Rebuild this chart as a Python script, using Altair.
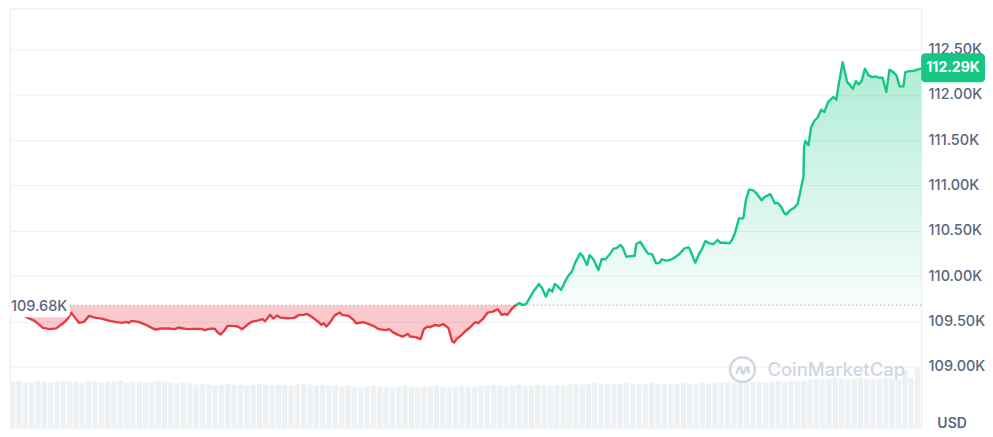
import altair as alt
import pandas as pd

# ---- data (24h, minutes since start, USD) ----
minutes = [0, 13, 25, 39, 52, 63, 73, 83, 91, 97, 103, 109, 117, 125, 130, 136, 145, 156, 167, 177,
           183, 188, 192, 203, 214, 224, 230, 239, 250, 261, 266, 274, 281, 292, 302, 308, 313, 317, 324, 328,
           333, 339, 344, 352, 360, 367, 375, 383, 391, 399, 403, 411, 416, 422, 427, 438, 449, 457, 464, 469,
           474, 482, 488, 492, 496, 500, 505, 513, 521, 525, 535, 543, 547, 558, 563, 574, 583, 594, 599, 605,
           613, 621, 629, 632, 641, 649, 654, 660, 664, 672, 677, 685, 693, 699, 702, 707, 711, 719, 727, 735,
           740, 747, 755, 763, 771, 777, 782, 786, 794, 800, 805, 810, 816, 821, 829, 836, 841, 847, 852, 857,
           861, 866, 871, 877, 882, 888, 894, 901, 905, 912, 916, 922, 930, 935, 941, 947, 954, 958, 965, 969,
           974, 982, 987, 990, 996, 1001, 1008, 1015, 1021, 1027, 1030, 1037, 1043, 1051, 1058, 1066, 1073, 1076, 1083, 1090,
           1093, 1099, 1105, 1112, 1118, 1123, 1130, 1137, 1141, 1146, 1152, 1159, 1163, 1168, 1174, 1180, 1188, 1193, 1202, 1209,
           1213, 1218, 1224, 1227, 1232, 1240, 1245, 1249, 1254, 1255, 1257, 1262, 1266, 1271, 1277, 1282, 1287, 1293, 1301, 1306,
           1309, 1316, 1323, 1326, 1332, 1337, 1341, 1346, 1351, 1357, 1363, 1368, 1373, 1379, 1385, 1390, 1396, 1401, 1406, 1412,
           1415, 1421, 1427, 1434, 1440]

prices = [109680, 109617, 109551, 109507, 109429, 109415, 109424, 109474, 109529, 109595,
          109540, 109485, 109496, 109562, 109551, 109540, 109532, 109510, 109496, 109485,
          109496, 109485, 109507, 109496, 109466, 109430, 109411, 109422, 109422, 109415,
          109433, 109422, 109415, 109418, 109418, 109404, 109415, 109422, 109418, 109382,
          109356, 109404, 109452, 109452, 109444, 109415, 109463, 109499, 109510, 109525,
          109501, 109573, 109532, 109565, 109543, 109536, 109540, 109573, 109573, 109584,
          109565, 109525, 109492, 109463, 109481, 109444, 109481, 109565, 109598, 109573,
          109562, 109518, 109481, 109492, 109481, 109452, 109415, 109404, 109415, 109382,
          109352, 109334, 109363, 109334, 109327, 109305, 109415, 109444, 109437, 109463,
          109452, 109470, 109426, 109279, 109268, 109316, 109334, 109389, 109433, 109492,
          109481, 109525, 109598, 109609, 109635, 109573, 109584, 109573, 109646, 109683,
          109702, 109683, 109694, 109757, 109848, 109914, 109867, 109774, 109856, 109829,
          109914, 109884, 109848, 109939, 110002, 110050, 110160, 110252, 110222, 110123,
          110233, 110186, 110068, 110186, 110186, 110233, 110307, 110307, 110344, 110307,
          110215, 110222, 110222, 110355, 110380, 110325, 110252, 110241, 110142, 110149,
          110186, 110171, 110178, 110208, 110244, 110307, 110318, 110270, 110149, 110259,
          110289, 110388, 110362, 110355, 110399, 110369, 110369, 110362, 110399, 110479,
          110638, 110638, 110839, 110955, 110949, 110913, 110839, 110876, 110905, 110803,
          110809, 110773, 110693, 110682, 110721, 110759, 110803, 110931, 111096, 111426,
          111492, 111445, 111640, 111713, 111757, 111838, 111812, 111922, 111977, 111948,
          112087, 112362, 112142, 112124, 112069, 112153, 112117, 112153, 112290, 112216,
          112197, 112205, 112190, 112190, 112032, 112279, 112252, 112216, 112095, 112095,
          112252, 112263, 112263, 112279, 112290]

# volume bars, 10-minute buckets (relative units)
volume = [46, 47, 45, 46, 47, 46, 45, 46, 47, 46, 46, 45, 47, 46, 45, 46, 46, 47, 45, 46,
          46, 45, 46, 47, 46, 45, 44, 45,
          44, 43, 44, 43, 42, 43, 44, 43, 43, 42, 43, 44, 43, 42, 43, 43, 42, 43, 44, 43,
          42, 43, 42, 42,
          41, 42, 41, 40, 41, 42, 41, 41, 40, 41, 42, 41, 40, 41, 41, 42, 41, 40, 41, 42,
          41, 41,
          42, 42, 43, 42, 41, 42, 43, 42, 42, 43, 42, 42, 43, 42,
          43, 44, 43, 44, 45, 44, 43, 44, 44, 45, 44, 43, 44, 45, 44, 44, 43, 44, 45, 44,
          44, 45, 44, 45, 45,
          46, 45, 46, 47, 46, 46, 45, 46, 47, 46, 47, 46, 47,
          48, 49, 48, 49, 50, 49, 48, 49, 50, 49, 48, 49, 50, 49, 48,
          58, 50, 60]

open_price = 109680
last_price = 112290
tick_values = [109000, 109500, 110000, 110500, 111000, 111500, 112000, 112500]

GREEN = "#16c784"
RED = "#ea3943"
GREY_TXT = "#58667e"
FONT = "Inter"

W, H = 913, 420
y_domain = [108329, 112955]

df = pd.DataFrame({"t": minutes, "price": prices})
vol_df = pd.DataFrame({"t0": [i * 10 for i in range(len(volume))], "vol": volume})
vol_df["t1"] = vol_df["t0"] + 10
one = pd.DataFrame({"k": [0]})  # single row for annotations

xs = alt.Scale(domain=[0, 1440], nice=False, zero=False)
ys = alt.Scale(domain=y_domain, nice=False, zero=False)

pmax, pmin = max(prices), min(prices)
split = (pmax - open_price) / (pmax - pmin)

line_grad = alt.Gradient(
    gradient="linear",
    stops=[alt.GradientStop(color=GREEN, offset=0),
           alt.GradientStop(color=GREEN, offset=split),
           alt.GradientStop(color=RED, offset=split),
           alt.GradientStop(color=RED, offset=1)],
    x1=0, x2=0, y1=0, y2=1)

area_grad = alt.Gradient(
    gradient="linear",
    stops=[alt.GradientStop(color="rgba(22,199,132,0.34)", offset=0),
           alt.GradientStop(color="rgba(22,199,132,0.03)", offset=1)],
    x1=0, x2=0, y1=0, y2=1)

base = alt.Chart(df)

vol = alt.Chart(vol_df).mark_rect(color="#eef1f4", x2Offset=-1).encode(
    x=alt.X("t0:Q", scale=xs, axis=None),
    x2="t1:Q",
    y=alt.Y("vol:Q", scale=alt.Scale(domain=[0, H], nice=False), axis=None),
    y2=alt.datum(0),
)

red_area = base.transform_calculate(lo=f"min(datum.price, {open_price})").mark_area(
    color=RED, opacity=0.27).encode(
    x=alt.X("t:Q", scale=xs, axis=None),
    y=alt.Y("lo:Q", scale=ys,
            axis=alt.Axis(orient="right", values=tick_values,
                          labelExpr="format(datum.value / 1000, '.2f') + 'K'",
                          grid=True, gridColor="#eef0f3", domain=False, ticks=False,
                          labelPadding=7, labelFont=FONT, labelFontSize=14.5,
                          labelColor=GREY_TXT, labelFontWeight=500, title=None)),
    y2=alt.datum(open_price),
)

green_area = base.transform_calculate(hi=f"max(datum.price, {open_price})").mark_area(
    fill=area_grad).encode(
    x=alt.X("t:Q", scale=xs),
    y=alt.Y("hi:Q", scale=ys),
    y2=alt.datum(open_price),
)

dotted = alt.Chart(one).mark_rule(color="#8f96a3", strokeDash=[1, 3], strokeWidth=1).encode(
    y=alt.datum(open_price, scale=ys)
)

line = base.mark_line(stroke=line_grad, strokeWidth=2.4, strokeJoin="round").encode(
    x=alt.X("t:Q", scale=xs),
    y=alt.Y("price:Q", scale=ys),
)

open_box = alt.Chart(one).mark_rect(fill="white", cornerRadius=4, yOffset=-10, y2Offset=12).encode(
    x=alt.value(0), x2=alt.value(60),
    y=alt.datum(open_price), y2=alt.datum(open_price),
)
open_txt = alt.Chart(one).mark_text(text="109.68K", align="left", baseline="middle", dy=1.5,
                                    font=FONT, fontSize=14.5, fontWeight=500, color=GREY_TXT).encode(
    x=alt.value(1), y=alt.datum(open_price),
)

badge = alt.Chart(one).mark_rect(fill=GREEN, cornerRadius=4, yOffset=-15.5, y2Offset=13.5).encode(
    x=alt.value(W), x2=alt.value(W + 64),
    y=alt.datum(last_price), y2=alt.datum(last_price),
)
badge_txt = alt.Chart(one).mark_text(text="112.29K", align="center", baseline="middle", dy=-1,
                                     font=FONT, fontSize=14, fontWeight=700, color="white").encode(
    x=alt.value(W + 32), y=alt.datum(last_price),
)

usd = alt.Chart(one).mark_text(text="USD", align="center", baseline="middle",
                               font=FONT, fontSize=14, fontWeight=600, color=GREY_TXT).encode(
    x=alt.value(944), y=alt.value(416),
)

wm_circle = alt.Chart(one).mark_point(shape="circle", size=620, filled=False, color="#cfd6e4",
                                      strokeWidth=2.5, opacity=1).encode(
    x=alt.value(734), y=alt.value(362),
)
wave = "M-0.62,0.35 L-0.38,-0.25 Q-0.28,-0.48 -0.16,-0.25 L-0.02,0.2 Q0.06,0.42 0.16,0.2 L0.32,-0.2 Q0.42,-0.42 0.55,-0.25 L0.62,0.3"
wm_wave = alt.Chart(one).mark_point(shape=wave, size=420, filled=False, color="#cfd6e4",
                                    strokeWidth=2.5, opacity=1).encode(
    x=alt.value(734), y=alt.value(363),
)
wm_text = alt.Chart(one).mark_text(text="CoinMarketCap", align="left", baseline="middle",
                                   font=FONT, fontSize=18.5, fontWeight=500, color="#cfd6e4").encode(
    x=alt.value(759), y=alt.value(362),
)

price_layers = alt.layer(red_area, green_area, dotted, line, open_box, open_txt,
                         wm_circle, wm_wave, wm_text, badge, badge_txt, usd)

chart = alt.layer(vol, price_layers).resolve_scale(y="independent").properties(
    width=W, height=H, padding=0, background="white"
).configure_view(stroke="#e8ebef", strokeWidth=1)

chart.save("out.html", embed_options={"renderer": "svg", "actions": False})
